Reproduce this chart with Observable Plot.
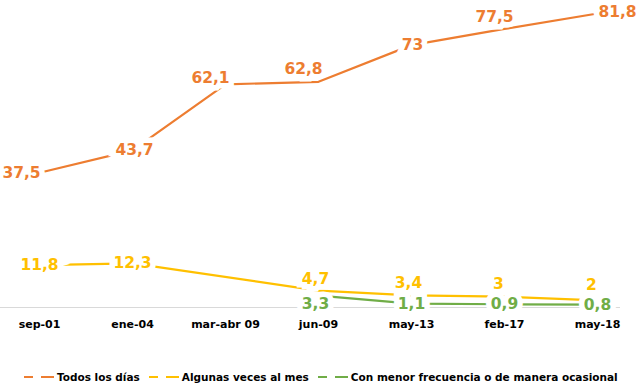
<!DOCTYPE html>
<html>
<head>
<meta charset="utf-8">
<script src="https://cdn.jsdelivr.net/npm/d3@7"></script>
<script src="https://cdn.jsdelivr.net/npm/@observablehq/plot@0.6"></script>
<style>
  html, body { margin: 0; padding: 0; background: #fff; }
  #chart { width: 640px; height: 384px; position: relative; font-family: "DejaVu Sans", sans-serif; }
  .legend { display: flex; align-items: center; padding-left: 24px; margin-top: 24px; height: 16px;
            font-size: 10.5px; font-weight: bold; color: #000; white-space: nowrap; }
  .legend .item { display: flex; align-items: center; margin-right: 9px; }
  .legend svg { margin-right: 2px; }
</style>
</head>
<body>
<div id="chart"></div>
<script>
// ---- data ----
const categories = ["sep-01", "ene-04", "mar-abr 09", "jun-09", "may-13", "feb-17", "may-18"];
const todosLosDias = [37.5, 43.7, 62.1, 62.8, 73, 77.5, 81.8];
const algunasVeces = [11.8, 12.3, null, 4.7, 3.4, 3, 2];
const menorFrecuencia = [null, null, null, 3.3, 1.1, 0.9, 0.8];
const seriesNames = ["Todos los días", "Algunas veces al mes", "Con menor frecuencia o de manera ocasional"];

// ---- style ----
const colors = ["#ED7D31", "#FFC000", "#70AD47"];
const labelDx = [[-18, 2, -15, -15, 1, -10, 20], [0, 0, 0, -3, -3, -6, -6], [0, 0, 0, -3, 0, 0, 0]];
const labelDy = [[0, 0, -6, -13, 0, -12, -1], [0, 0, 0, -12, -12, -13, -15], [0, 0, 0, 8, 0, 0, 0]];

const seriesValues = [todosLosDias, algunasVeces, menorFrecuencia];
const rows = [];
seriesValues.forEach((vals, s) => {
  vals.forEach((v, i) => {
    if (v != null) rows.push({series: seriesNames[s], s, i, cat: categories[i], value: v});
  });
});
const fmt = v => String(v).replace(".", ",");

const marks = [
  Plot.ruleY([0], {stroke: "#D9D9D9", strokeWidth: 1, insetLeft: -37, insetRight: -22})
];
seriesNames.forEach((name, s) => {
  marks.push(Plot.line(rows.filter(d => d.s === s), {
    x: "cat", y: "value", stroke: colors[s], strokeWidth: 2.2
  }));
});
rows.forEach(d => {
  marks.push(Plot.text([d], {
    x: "cat", y: "value", text: d => fmt(d.value),
    fill: colors[d.s], stroke: "white", strokeWidth: 11, strokeLinejoin: "miter", paintOrder: "stroke",
    fontSize: 15.5, fontWeight: "bold",
    dx: labelDx[d.s][d.i], dy: labelDy[d.s][d.i]
  }));
});
marks.push(Plot.axisX({tickSize: 0, tickPadding: 13, fontSize: 11, fontWeight: "bold", fill: "#000", label: null}));

const plot = Plot.plot({
  width: 640,
  height: 345,
  marginLeft: 37,
  marginRight: 42,
  marginTop: 13,
  marginBottom: 38,
  style: {fontFamily: "DejaVu Sans", background: "white", overflow: "visible"},
  x: {type: "point", domain: categories, padding: 0},
  y: {domain: [0, 81.8], axis: null},
  marks
});
const chart = document.getElementById("chart");
chart.appendChild(plot);

const legend = document.createElement("div");
legend.className = "legend";
seriesNames.forEach((name, s) => {
  const item = document.createElement("div");
  item.className = "item";
  item.innerHTML = `<svg width="31" height="10"><line x1="0" y1="5" x2="9" y2="5" stroke="${colors[s]}" stroke-width="2"/><line x1="17" y1="5" x2="30" y2="5" stroke="${colors[s]}" stroke-width="2"/></svg><span>${name}</span>`;
  legend.appendChild(item);
});
chart.appendChild(legend);
</script>
</body>
</html>
